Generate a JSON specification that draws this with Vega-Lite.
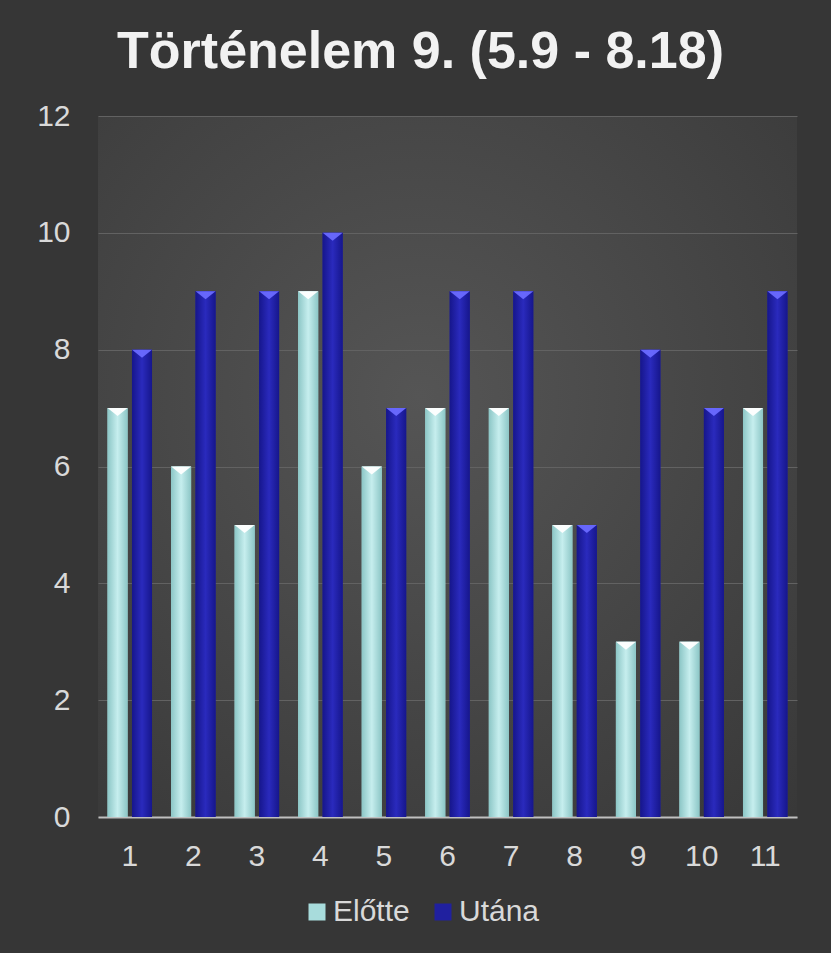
{
  "$schema": "https://vega.github.io/schema/vega-lite/v6.json",
  "width": 699,
  "height": 701,
  "autosize": {"type": "none"},
  "padding": {"left": 98, "top": 116, "right": 34, "bottom": 136},
  "background": "#363636",
  "title": {
    "text": "Történelem 9. (5.9 - 8.18)",
    "font": "Liberation Sans",
    "fontSize": 52,
    "fontWeight": "bold",
    "color": "#f2f2f2",
    "anchor": "middle",
    "dx": -27,
    "offset": 22
  },
  "data": {
    "values": [
      {"q": 1, "series": "Előtte", "value": 7}, {"q": 1, "series": "Utána", "value": 8},
      {"q": 2, "series": "Előtte", "value": 6}, {"q": 2, "series": "Utána", "value": 9},
      {"q": 3, "series": "Előtte", "value": 5}, {"q": 3, "series": "Utána", "value": 9},
      {"q": 4, "series": "Előtte", "value": 9}, {"q": 4, "series": "Utána", "value": 10},
      {"q": 5, "series": "Előtte", "value": 6}, {"q": 5, "series": "Utána", "value": 7},
      {"q": 6, "series": "Előtte", "value": 7}, {"q": 6, "series": "Utána", "value": 9},
      {"q": 7, "series": "Előtte", "value": 7}, {"q": 7, "series": "Utána", "value": 9},
      {"q": 8, "series": "Előtte", "value": 5}, {"q": 8, "series": "Utána", "value": 5},
      {"q": 9, "series": "Előtte", "value": 3}, {"q": 9, "series": "Utána", "value": 8},
      {"q": 10, "series": "Előtte", "value": 3}, {"q": 10, "series": "Utána", "value": 7},
      {"q": 11, "series": "Előtte", "value": 7}, {"q": 11, "series": "Utána", "value": 9}
    ]
  },
  "encoding": {
    "x": {
      "field": "q",
      "type": "ordinal",
      "scale": {"paddingInner": 0.3, "paddingOuter": 0.15},
      "axis": {
        "title": null,
        "labelAngle": 0,
        "domain": true,
        "domainColor": "#c0c0c0",
        "domainWidth": 2,
        "ticks": false,
        "grid": false,
        "labelFontSize": 30,
        "labelColor": "#d9d9d9",
        "labelPadding": 24
      }
    },
    "xOffset": {
      "field": "series",
      "type": "nominal",
      "scale": {"domain": ["Előtte", "Utána"], "paddingInner": 0.18, "paddingOuter": 0}
    },
    "y": {
      "field": "value",
      "type": "quantitative",
      "scale": {"domain": [0, 12], "nice": false},
      "axis": {
        "title": null,
        "values": [0, 2, 4, 6, 8, 10, 12],
        "domain": false,
        "ticks": false,
        "grid": true,
        "gridColor": "#626262",
        "gridWidth": 1,
        "labelFontSize": 30,
        "labelColor": "#d9d9d9",
        "labelPadding": 28
      }
    }
  },
  "layer": [
    {
      "mark": {"type": "bar", "strokeWidth": 0},
      "encoding": {
        "fill": {
          "field": "series",
          "type": "nominal",
          "scale": {"domain": ["Előtte", "Utána"], "range": ["#a8dcdc", "#20209f"]},
          "legend": {
            "title": null,
            "orient": "none",
            "legendX": 204,
            "legendY": 781,
            "direction": "horizontal",
            "symbolType": "square",
            "symbolSize": 289,
            "symbolStrokeWidth": 0,
            "labelFontSize": 30,
            "labelColor": "#d9d9d9",
            "labelOffset": 1,
            "columnPadding": 18
          }
        }
      }
    },
    {
      "transform": [{"filter": "datum.series === 'Előtte'"}],
      "mark": {"type": "bar", "strokeWidth": 0,
        "fill": {"gradient": "linear", "x1": 0, "y1": 0, "x2": 1, "y2": 0, "stops": [
          {"offset": 0, "color": "#8cc6c6"}, {"offset": 0.5, "color": "#c6eeee"}, {"offset": 1, "color": "#8cc6c6"}]}}
    },
    {
      "transform": [{"filter": "datum.series === 'Utána'"}],
      "mark": {"type": "bar", "strokeWidth": 0,
        "fill": {"gradient": "linear", "x1": 0, "y1": 0, "x2": 1, "y2": 0, "stops": [
          {"offset": 0, "color": "#16168c"}, {"offset": 0.5, "color": "#2a2abd"}, {"offset": 1, "color": "#16168c"}]}}
    },
    {
      "mark": {"type": "point", "shape": "M-1,0L1,0L0,0.8Z", "filled": true, "opacity": 0.95, "strokeWidth": 0, "size": 400},
      "encoding": {
        "fill": {
          "condition": {"test": "datum.series === 'Előtte'", "value": "#ffffff"},
          "value": "#6a6aff"
        }
      }
    }
  ],
  "config": {
    "font": "Liberation Sans",
    "view": {
      "stroke": null,
      "fill": {"gradient": "radial", "x1": 0.46, "y1": 0.4, "r1": 0, "x2": 0.46, "y2": 0.4, "r2": 0.8,
        "stops": [{"offset": 0, "color": "#555555"}, {"offset": 1, "color": "#383838"}]}
    },
    "axis": {"labelFont": "Liberation Sans"},
    "legend": {"labelFont": "Liberation Sans"}
  }
}
